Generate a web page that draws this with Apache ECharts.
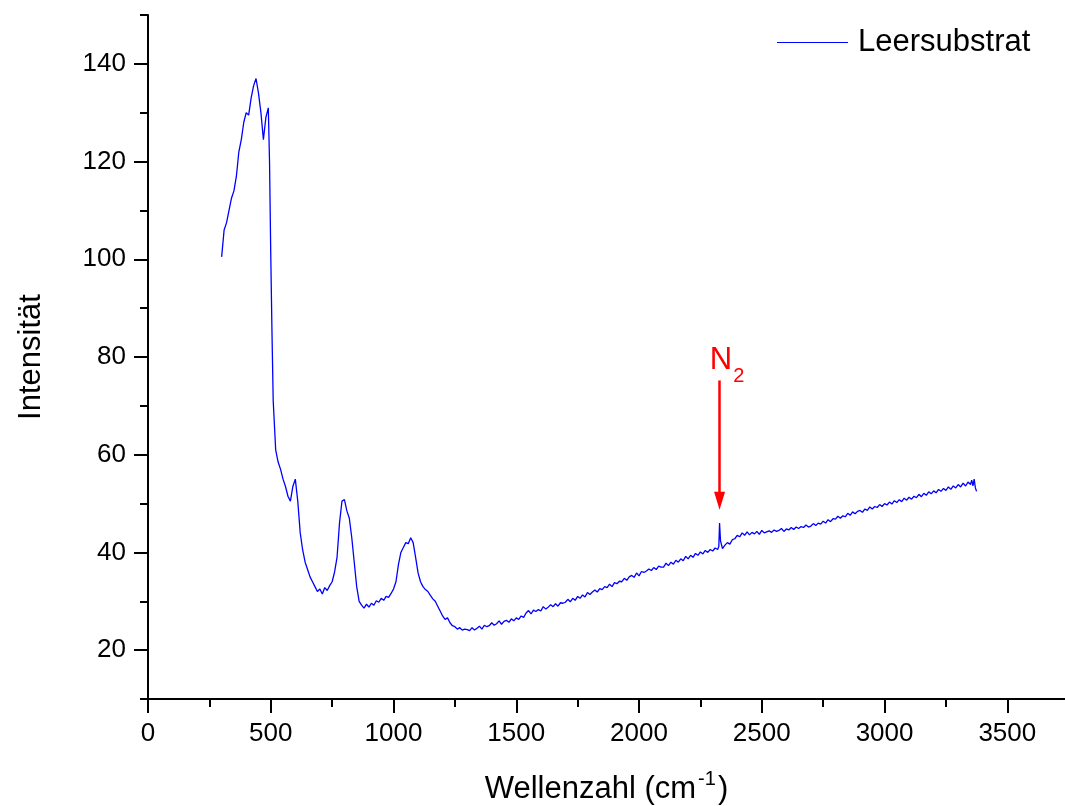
<!DOCTYPE html>
<html>
<head>
<meta charset="utf-8">
<script src="https://cdn.jsdelivr.net/npm/echarts@6/dist/echarts.min.js"></script>
<style>
html,body{margin:0;padding:0;background:#fff;}
#chart{width:1065px;height:806px;}
</style>
</head>
<body>
<div id="chart"></div>
<script>
// ---- data ----
var wavenumber = [
300,310,320,330,340,350,360,370,380,390,400,410,420,430,440,450,460,470,480,490,
495,500,505,510,
520,530,540,550,560,570,580,590,600,610,620,630,640,650,660,670,680,690,700,710,720,730,740,750,760,770,780,790,800,810,820,830,840,850,860,870,880,890,900,910,920,930,940,950,960,970,980,990,1000,1010,1020,1030,1040,1050,1060,1070,1080,1090,1100,1110,1120,1130,1140,1150,1160,1170,1180,1190,1200,1210,1220,1230,1240,1250,1260,1270,1280,1290,
1300,1310,1320,1330,1340,1350,1360,1370,1380,1390,1400,1410,1420,1430,1440,1450,1460,1470,1480,1490,1500,1510,1520,1530,1540,1550,1560,1570,1580,1590,1600,1610,1620,1630,1640,1650,1660,1670,1680,1690,1700,1710,1720,1730,1740,1750,1760,1770,1780,1790,1800,1810,1820,1830,1840,1850,1860,1870,1880,1890,1900,1910,1920,1930,1940,1950,1960,1970,1980,1990,2000,2010,2020,2030,2040,2050,2060,2070,2080,2090,2100,2110,2120,2130,2140,2150,2160,2170,2180,2190,2200,2210,2220,2230,2240,2250,2260,2270,2280,2290,2300,2310,2320,
2325,2328,2332,
2340,2350,2360,2370,2380,2390,2400,2410,2420,2430,2440,2450,2460,2470,2480,2490,2500,2510,2520,2530,2540,2550,2560,2570,2580,2590,2600,2610,2620,2630,2640,2650,2660,2670,2680,2690,2700,2710,2720,2730,2740,2750,2760,2770,2780,2790,2800,2810,2820,2830,2840,2850,2860,2870,2880,2890,2900,2910,2920,2930,2940,2950,2960,2970,2980,2990,3000,3010,3020,3030,3040,3050,3060,3070,3080,3090,3100,3110,3120,3130,3140,3150,3160,3170,3180,3190,3200,3210,3220,3230,3240,3250,3260,3270,3280,3290,3300,3310,3320,3330,3340,3350,
3355,3360,3365,3370,3375
];
var intensity = [
100.5,106,107.5,110,112.5,114,117,122,124.5,128,130,129.5,133,135.5,137,134,130,124.5,129,131,
120,101,85,71,
61,58.5,57,55,53.5,51.5,50.5,53.5,55,50.5,44,40.5,38,36.5,35,34,33,32,32.5,31.5,32.8,32.2,33.2,34,36,39,46,50.5,50.8,48.5,47,43,38,33,30,29.2,28.6,29.4,28.8,29.6,29.2,30.1,29.8,30.6,30.2,31,30.8,31.6,32.5,34,37.5,40,41,42,41.8,43,42,39,35.8,34,33,32.4,32,31.2,30.5,30,29,28,27,26.3,26.6,25.6,25,24.8,24.3,24.6,24.1,24.3,
24.2,24.0,24.6,24.1,24.5,24.9,24.3,25.1,24.8,25.0,25.6,25.1,25.4,26.0,25.3,25.9,26.1,25.7,26.4,26.0,26.6,26.3,27.0,26.7,27.6,28.1,27.4,28.2,27.9,28.3,28.0,28.9,28.4,28.8,29.3,28.9,29.5,29.0,29.7,29.6,29.8,30.4,29.9,30.6,30.2,31.0,30.6,31.3,30.9,31.8,31.4,31.9,32.3,31.9,32.6,32.4,33.0,32.8,33.5,33.0,33.8,33.6,34.1,34.0,34.7,34.3,35.0,35.3,34.9,35.8,35.2,36.1,35.9,36.2,36.6,36.3,36.9,36.5,37.2,37.0,37.0,37.8,37.3,38.0,37.6,38.4,38.0,38.7,38.3,39.2,38.7,39.4,39.0,39.8,39.4,40.1,39.7,40.4,40.0,40.6,40.3,40.9,40.6,
41.2,46,42.3,
40.8,41.5,42.0,41.7,42.6,42.8,43.5,43.2,44.0,43.5,44.2,43.6,44.1,43.8,44.3,43.7,44.5,44.0,44.2,44.4,44.1,44.6,44.3,44.5,44.9,44.3,44.8,44.6,45.1,44.7,45.2,44.9,45.3,45.1,45.6,45.2,45.4,45.9,45.5,46.0,45.8,46.4,46.0,46.7,46.3,46.9,46.8,47.4,47.0,47.5,47.3,48.0,47.6,48.3,47.9,48.4,48.6,48.2,48.9,48.6,49.3,48.9,49.4,49.2,49.8,49.4,50.0,49.7,50.3,49.9,50.6,50.2,50.8,50.4,51.1,50.7,51.3,50.9,51.5,51.2,51.9,51.4,52.1,51.7,52.4,52.0,52.6,52.2,52.9,52.5,53.1,52.7,53.4,52.9,53.6,53.2,53.9,53.4,54.2,53.6,54.4,53.9,
54.8,53.6,55,53.2,52.5
];
var seriesName = 'Leersubstrat';
var xMajorTicks = [0,500,1000,1500,2000,2500,3000,3500];
var xMinorTicks = [250,750,1250,1750,2250,2750,3250];
var yMajorTicks = [20,40,60,80,100,120,140];
var yMinorTicks = [10,30,50,70,90,110,130,150];
var n2Position = 2328;      // cm^-1
var n2Arrow = [75.2, 50.6]; // arrow from / to (intensity units)

var points = wavenumber.map(function (w, i) { return [w, intensity[i]]; });

var FONT = 'Liberation Sans, Arial, sans-serif';
var chart = echarts.init(document.getElementById('chart'), null, {renderer: 'canvas'});

var axisLineStyle = {color: '#000', width: 2};

chart.setOption({
  animation: false,
  backgroundColor: '#fff',
  textStyle: {fontFamily: FONT, color: '#000'},
  grid: {left: 148, right: 0, top: 15, bottom: 107, containLabel: false, outerBoundsMode: 'none'},
  legend: {
    left: 772, top: 22,
    itemWidth: 71, itemHeight: 14, itemGap: 10,
    textStyle: {fontFamily: FONT, fontSize: 31, color: '#000', padding: [0, 0, 0, 5]},
    data: [{name: seriesName, icon: 'path://M0,0 L71,0 L71,1 L0,1 Z'}]
  },
  xAxis: [{
    type: 'value', min: 0, max: 3735, position: 'bottom',
    axisLine: {show: true, onZero: false, lineStyle: axisLineStyle},
    axisTick: {show: true, customValues: xMajorTicks, length: 14, inside: false, lineStyle: {color: '#000', width: 2}},
    axisLabel: {customValues: xMajorTicks, formatter: function (v) { return String(v); }, fontFamily: FONT, fontSize: 26, color: '#000', margin: 22},
    splitLine: {show: false},
    name: '{a|Wellenzahl (cm}{b|-1}{a|)}',
    nameLocation: 'middle', nameGap: 70,
    nameTextStyle: {
      rich: {
        a: {fontFamily: FONT, fontSize: 31, color: '#000', verticalAlign: 'bottom', lineHeight: 36},
        b: {fontFamily: FONT, fontSize: 20, color: '#000', verticalAlign: 'top', lineHeight: 36, padding: [0, 2, 14, 2]}
      }
    }
  }, {
    type: 'value', min: 0, max: 3735, position: 'bottom', offset: 0,
    axisLine: {show: false, onZero: false},
    axisTick: {show: true, customValues: xMinorTicks, length: 8, inside: false, lineStyle: {color: '#000', width: 2}},
    axisLabel: {show: false},
    splitLine: {show: false}
  }],
  yAxis: [{
    type: 'value', min: 10, max: 150, position: 'left',
    axisLine: {show: true, onZero: false, lineStyle: axisLineStyle},
    axisTick: {show: true, customValues: yMajorTicks, length: 14, inside: false, lineStyle: {color: '#000', width: 2}},
    axisLabel: {customValues: yMajorTicks, fontFamily: FONT, fontSize: 26, color: '#000', margin: 22},
    splitLine: {show: false},
    name: 'Intensität', nameLocation: 'middle', nameGap: 101, nameRotate: 90,
    nameTextStyle: {fontFamily: FONT, fontSize: 31, color: '#000'}
  }, {
    type: 'value', min: 10, max: 150, position: 'left', offset: 0,
    axisLine: {show: false, onZero: false},
    axisTick: {show: true, customValues: yMinorTicks, length: 8, inside: false, lineStyle: {color: '#000', width: 2}},
    axisLabel: {show: false},
    splitLine: {show: false}
  }],
  series: [{
    name: seriesName,
    type: 'line',
    xAxisIndex: 0, yAxisIndex: 0,
    data: points,
    showSymbol: false, symbol: 'none',
    lineStyle: {color: '#0000ff', width: 1.3},
    itemStyle: {color: '#0000ff'},
    markLine: {
      silent: true,
      symbol: ['none', 'triangle'],
      symbolSize: [11, 18],
      lineStyle: {color: '#ff0000', width: 2.5, type: 'solid'},
      itemStyle: {color: '#ff0000'},
      label: {
        show: true, position: 'start', distance: 4,
        formatter: '{n|N}{s|2}',
        rich: {
          n: {fontFamily: FONT, fontSize: 31, color: '#ff0000', lineHeight: 36, verticalAlign: 'bottom', padding: [0, 0, 0, 15]},
          s: {fontFamily: FONT, fontSize: 20, color: '#ff0000', lineHeight: 36, verticalAlign: 'bottom', padding: [0, 0, -10, 1]}
        }
      },
      data: [[{coord: [n2Position, n2Arrow[0]]}, {coord: [n2Position, n2Arrow[1]]}]]
    }
  }]
});
</script>
</body>
</html>
